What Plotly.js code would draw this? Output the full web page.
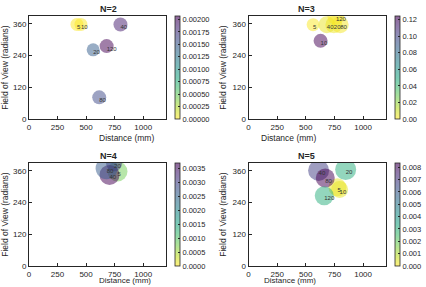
<!DOCTYPE html>
<html>
<head>
<meta charset="utf-8">
<script src="https://cdn.plot.ly/plotly-3.0.1.min.js"></script>
<style>
  html, body { margin: 0; padding: 0; background: #ffffff; }
  #chart { width: 426px; height: 287px; }
</style>
</head>
<body>
<div id="chart"></div>
<script>
// Shared axis ticks
const distTicks = [0, 250, 500, 750, 1000];
const fovTicks = [0, 120, 240, 360];

// N=2
const n2Labels = ['5', '10', '20', '40', '80', '120'];
const n2Dist = [420, 455, 562, 801, 615, 680];
const n2Fov = [358, 358, 262, 358, 82, 276];
const n2Val = [0.00000, 0.00001, 0.00145, 0.00190, 0.00160, 0.00207];
const n2Size = [13, 13, 13, 14, 14, 14];

// N=3
const n3Labels = ['5', '10', '20', '40', '80', '120'];
const n3Dist = [564, 629, 745, 684, 800, 763];
const n3Fov = [357, 296, 357, 357, 357, 389];
const n3Val = [0.0005, 0.124, 0.003, 0.004, 0.002, 0.001];
const n3Size = [13, 14, 17, 17, 17, 17];

// N=4
const n4Labels = ['5', '20', '40', '80'];
const n4Dist = [775, 745, 705, 680];
const n4Fov = [358, 389, 345, 370];
const n4Val = [0.0008, 0.0031, 0.00368, 0.0026];
const n4Size = [20, 16, 20, 22];

// N=5
const n5Labels = ['5', '10', '20', '40', '80', '120'];
const n5Dist = [776, 795, 848, 612, 670, 661];
const n5Fov = [298, 290, 365, 362, 333, 266];
const n5Val = [0.0002, 0.0003, 0.0031, 0.0068, 0.00835, 0.0031];
const n5Size = [18, 17, 21, 21, 19, 19];

const ink = '#262626';
const fontFamily = '"Liberation Sans", Arial, Helvetica, sans-serif';

// Reversed viridis, semi-transparent
const viridis = ['#440154', '#482475', '#414487', '#355f8d', '#2a788e', '#21918c',
                 '#22a884', '#44bf70', '#7ad151', '#bddf26', '#fde725'];
function rgba(hex, a) {
  const n = parseInt(hex.slice(1), 16);
  return 'rgba(' + ((n >> 16) & 255) + ',' + ((n >> 8) & 255) + ',' + (n & 255) + ',' + a + ')';
}
const colorscale = viridis.slice().reverse().map((c, i) => [i / (viridis.length - 1), rgba(c, 0.6)]);

const panels = [
  { title: 'N=2', labels: n2Labels, x: n2Dist, y: n2Fov, v: n2Val, s: n2Size,
    cmax: 0.00207, dtick: 0.00025, fmt: '.5f' },
  { title: 'N=3', labels: n3Labels, x: n3Dist, y: n3Fov, v: n3Val, s: n3Size,
    cmax: 0.1245, dtick: 0.02, fmt: '.2f' },
  { title: 'N=4', labels: n4Labels, x: n4Dist, y: n4Fov, v: n4Val, s: n4Size,
    cmax: 0.00368, dtick: 0.0005, fmt: '.4f' },
  { title: 'N=5', labels: n5Labels, x: n5Dist, y: n5Fov, v: n5Val, s: n5Size,
    cmax: 0.00835, dtick: 0.001, fmt: '.3f' }
];

const W = 426, H = 287;
// plot boxes in pixels: [left, right, top, bottom]
const boxes = [
  [29, 166, 16, 119],
  [248.5, 386, 16, 119],
  [29, 166, 163, 266],
  [248.5, 386, 163, 266]
];
const barLeft = [175, 395, 175, 395];

const data = [];
const layout = {
  width: W, height: H,
  margin: { l: 0, r: 0, t: 0, b: 0 },
  paper_bgcolor: '#ffffff',
  plot_bgcolor: '#ffffff',
  font: { family: fontFamily, color: ink, size: 8 },
  showlegend: false,
  annotations: []
};

panels.forEach((p, i) => {
  const k = i === 0 ? '' : String(i + 1);
  const b = boxes[i];
  const xd = [b[0] / W, b[1] / W];
  const yd = [1 - b[3] / H, 1 - b[2] / H];

  data.push({
    type: 'scatter', mode: 'markers',
    x: p.x, y: p.y,
    xaxis: 'x' + k, yaxis: 'y' + k,
    hoverinfo: 'skip',
    marker: {
      size: p.s, color: p.v, colorscale: colorscale,
      cmin: 0, cmax: p.cmax, opacity: 0.85,
      line: { width: 0 },
      showscale: true,
      colorbar: {
        x: barLeft[i] / W, xanchor: 'left', xpad: 0, ypad: 0,
        y: (yd[0] + yd[1]) / 2, yanchor: 'middle',
        len: yd[1] - yd[0], lenmode: 'fraction',
        thickness: 5, outlinewidth: 0.8, outlinecolor: ink,
        ticks: 'inside', ticklen: 2, tickcolor: ink,
        tick0: 0, dtick: p.dtick, tickformat: p.fmt,
        tickfont: { size: 7.5, color: ink, family: fontFamily }
      }
    }
  });
  data.push({
    type: 'scatter', mode: 'text',
    x: p.x, y: p.y, text: p.labels,
    xaxis: 'x' + k, yaxis: 'y' + k,
    textposition: 'bottom right',
    textfont: { size: 6, color: '#333333', family: fontFamily },
    hoverinfo: 'skip', cliponaxis: false
  });

  layout['xaxis' + k] = {
    domain: xd, anchor: 'y' + k, range: [0, 1200],
    tickvals: distTicks, ticks: 'inside', ticklen: 3, tickcolor: ink,
    showline: true, mirror: true, linecolor: ink, linewidth: 1,
    showgrid: false, zeroline: false,
    tickfont: { size: 8 }
  };
  layout['yaxis' + k] = {
    domain: yd, anchor: 'x' + k, range: [0, 390],
    tickvals: fovTicks, ticks: 'inside', ticklen: 3, tickcolor: ink,
    showline: true, mirror: true, linecolor: ink, linewidth: 1,
    showgrid: false, zeroline: false,
    tickfont: { size: 8 },
    title: { text: 'Field of View (radians)', font: { size: 8.5 }, standoff: 4 }
  };
  // panel title
  layout.annotations.push({
    text: '<b>' + p.title + '</b>', xref: 'paper', yref: 'paper',
    x: (xd[0] + xd[1]) / 2, y: yd[1] + 7 / H, yanchor: 'middle',
    showarrow: false, font: { size: 9, color: ink }
  });
  // x-axis title under the tick labels, kept inside the page
  const bottomRow = yd[0] - 19 / H < 2 / H;
  layout.annotations.push({
    text: 'Distance (mm)', xref: 'paper', yref: 'paper',
    x: (xd[0] + xd[1]) / 2, y: bottomRow ? 1.5 / H : yd[0] - 19 / H,
    yanchor: bottomRow ? 'bottom' : 'middle', borderpad: 0,
    showarrow: false, font: { size: bottomRow ? 8 : 8.5, color: ink }
  });
});

Plotly.newPlot('chart', data, layout, { staticPlot: true, displayModeBar: false });
</script>
</body>
</html>
